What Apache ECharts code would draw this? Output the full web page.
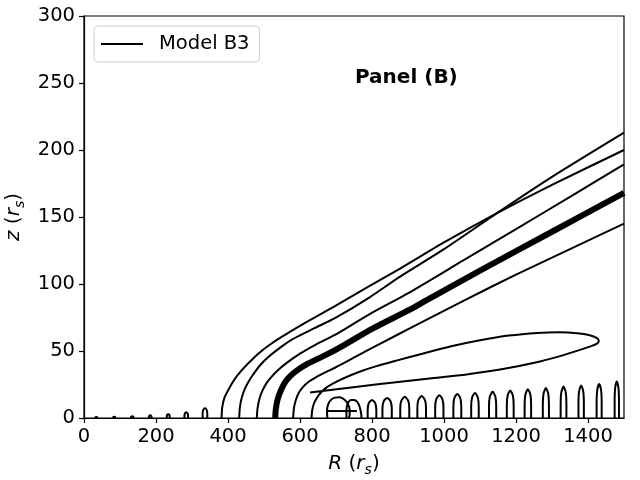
<!DOCTYPE html>
<html>
<head>
<meta charset="utf-8">
<title>Panel (B)</title>
<script src="https://cdn.jsdelivr.net/npm/echarts@6/dist/echarts.min.js"></script>
<style>
  html, body { margin: 0; padding: 0; background: #fff; }
  #chart { width: 640px; height: 480px; }
</style>
</head>
<body>
<div id="chart"></div>
<script>
// field lines, [R, z] in r_s
const lineA = [[382,0],[384,8],[390,15],[401,21],[416,28],[433,34],[457,41],[484,48],[515,54.5],[549,60.5],[614,71],[697,83.5],[790,98],[878,111.5],[1000,131],[1146,152.7],[1300,174],[1500,200]]
const lineB = [[431,0],[433,8],[438,15],[447,22],[457,27],[466,31],[488,39],[512,45.5],[545,52.5],[577,58.5],[640,67],[697,74.5],[790,89.5],[878,105.5],[1000,126],[1146,152.7],[1300,180],[1500,213]]
const lineC = [[480,0],[482,7],[487,14],[495,20],[507,26],[522,31],[540,36],[565,41.5],[600,48],[645,55],[697,62],[790,77],[906,94],[1050,117],[1200,141],[1350,165],[1500,189.3]]
const lineD = [[531,0],[533,7],[538,14],[546,20],[557,26],[572,31],[592,35.5],[618,40],[648,44],[679,48],[720,54],[800,66.5],[906,81],[952,88],[1100,110],[1300,139],[1500,168]]
const lineE = [[581,0],[583,7],[588,13],[596,18.5],[608,23],[624,27],[645,30.5],[670,34],[697,37.5],[760,46.5],[830,56.5],[906,67],[1058,88],[1200,107],[1350,126],[1500,145]]
// the one that turns back near R = 1430
const lineF = [[632,0],[634,6],[639,11],[647,15],[658,19],[672,22.5],[690,25.5],[720,29.5],[760,34],[810,38.5],[870,43],[940,48],[1020,53.5],[1100,58],[1180,61.5],[1260,63.5],[1320,64],[1370,63.3],[1405,61.8],[1424,59.8],[1430,57.5],[1424,55.3],[1405,53.3],[1380,51],[1320,46],[1248,41],[1160,36.3],[1063,32.5],[960,29.5],[860,26.5],[760,23.3],[690,21],[628,19]]

// the "P" near R = 700
const ringP = [[676,0],[675,5],[678,10],[686,13.5],[697,15.2],[710,15.5],[722,14],[732,11],[738,6],[738,2],[735,0]]
const barP = [[676,5.2],[758,5.2]]
const hookP = [[729,0],[729,6],[733,11],[741,13.4],[750,13.5],[759,12],[766,8],[770,3],[771,0]]

// little arches along the disc
const smallCenters = [34, 84, 134, 184, 234, 284, 336]
const smallHeights = [0.8, 1, 1.3, 2, 2.8, 4.2, 7.2]
const smallWidths = [6, 6, 7, 7, 8, 10, 13]
const loopCenters = [800, 842, 891, 938, 987, 1037, 1086, 1135, 1184, 1233, 1283, 1332, 1381, 1431, 1480]
const loopHeights = [13.4, 15, 15.8, 16.4, 17, 18, 18.7, 19.5, 20.5, 21.4, 22.3, 23.5, 24.3, 25.3, 27.3]
const loopWidths = [24, 26, 25, 24, 23, 22, 21, 20, 19, 18, 17, 16, 15, 14, 12]

const FONT = 'DejaVu Sans'

function arch(c, h, w) {
    // outline of one arch sitting on z = 0
    let hw = w / 2
    return [[c - hw, 0], [c - hw, h * 0.45], [c - hw * 0.76, h * 0.82], [c, h],
        [c + hw * 0.76, h * 0.82], [c + hw, h * 0.45], [c + hw, 0]]
}

function lineSeries(data, width, name) {
    return {
        name: name,
        type: 'line',
        data: data,
        symbol: 'none',
        smooth: 0.25,
        lineStyle: { color: '#000', width: width },
        itemStyle: { color: '#000' },
        silent: true,
        animation: false
    }
}

let series = [
    lineSeries(lineA, 2, 'Model B3'),
    lineSeries(lineB, 2),
    lineSeries(lineC, 2),
    lineSeries(lineD, 6),
    lineSeries(lineE, 2),
    lineSeries(lineF, 2),
    lineSeries(ringP, 2),
    lineSeries(barP, 2),
    lineSeries(hookP, 2)
]
smallCenters.forEach((c, i) => {
    series.push(lineSeries(arch(c, smallHeights[i], smallWidths[i]), 2))
})
loopCenters.forEach((c, i) => {
    series.push(lineSeries(arch(c, loopHeights[i], loopWidths[i]), 2))
})

const nameStyle = {
    fontFamily: FONT, fontSize: 20, color: '#000',
    rich: {
        it: { fontFamily: FONT, fontSize: 20, fontStyle: 'italic', lineHeight: 26, verticalAlign: 'middle' },
        sub: { fontFamily: FONT, fontSize: 14, fontStyle: 'italic', lineHeight: 14, verticalAlign: 'bottom' }
    }
}

let chart = echarts.init(document.getElementById('chart'), null, { renderer: 'canvas' })
let option = {
    backgroundColor: '#fff',
    animation: false,
    textStyle: { fontFamily: FONT, color: '#000' },
    title: {
        text: 'Panel (B)',
        left: 350,
        top: 63,
        textStyle: { fontFamily: FONT, fontSize: 20, fontWeight: 'bold', color: '#000' }
    },
    legend: {
        data: ['Model B3'],
        icon: 'rect',
        left: 94,
        top: 26,
        padding: [8, 10, 8, 7],
        itemWidth: 42,
        itemHeight: 2,
        itemStyle: { color: '#000' },
        borderColor: '#cccccc',
        borderWidth: 1,
        borderRadius: 4,
        backgroundColor: 'rgba(255,255,255,0.8)',
        textStyle: { fontFamily: FONT, fontSize: 19.5, color: '#000', padding: [0, 0, 0, 11], lineHeight: 20 }
    },
    grid: {
        left: 84, right: 16, top: 16, bottom: 62,
        outerBoundsMode: 'none',
        containLabel: false,
        show: true, borderColor: '#000', borderWidth: 1.2
    },
    xAxis: {
        type: 'value',
        min: 0, max: 1500, interval: 200,
        name: '{it|R} ({it|r}{sub|s})',
        nameLocation: 'middle',
        nameGap: 33,
        nameTextStyle: nameStyle,
        axisLine: { lineStyle: { color: '#000', width: 1.2 } },
        axisTick: { inside: false, length: 5, lineStyle: { color: '#000', width: 1.2 } },
        axisLabel: {
            fontFamily: FONT, fontSize: 19.5, color: '#000', margin: 9, showMaxLabel: false,
            formatter: v => String(v)
        },
        splitLine: { show: false }
    },
    yAxis: {
        type: 'value',
        min: 0, max: 300, interval: 50,
        name: '{it|z} ({it|r}{sub|s})',
        nameLocation: 'middle',
        nameRotate: 90,
        nameGap: 52,
        nameTextStyle: nameStyle,
        axisLine: { lineStyle: { color: '#000', width: 1.2 } },
        axisTick: { inside: false, length: 5, lineStyle: { color: '#000', width: 1.2 } },
        axisLabel: { fontFamily: FONT, fontSize: 19.5, color: '#000', margin: 9 },
        splitLine: { show: false }
    },
    series: series
}
chart.setOption(option)
</script>
</body>
</html>
